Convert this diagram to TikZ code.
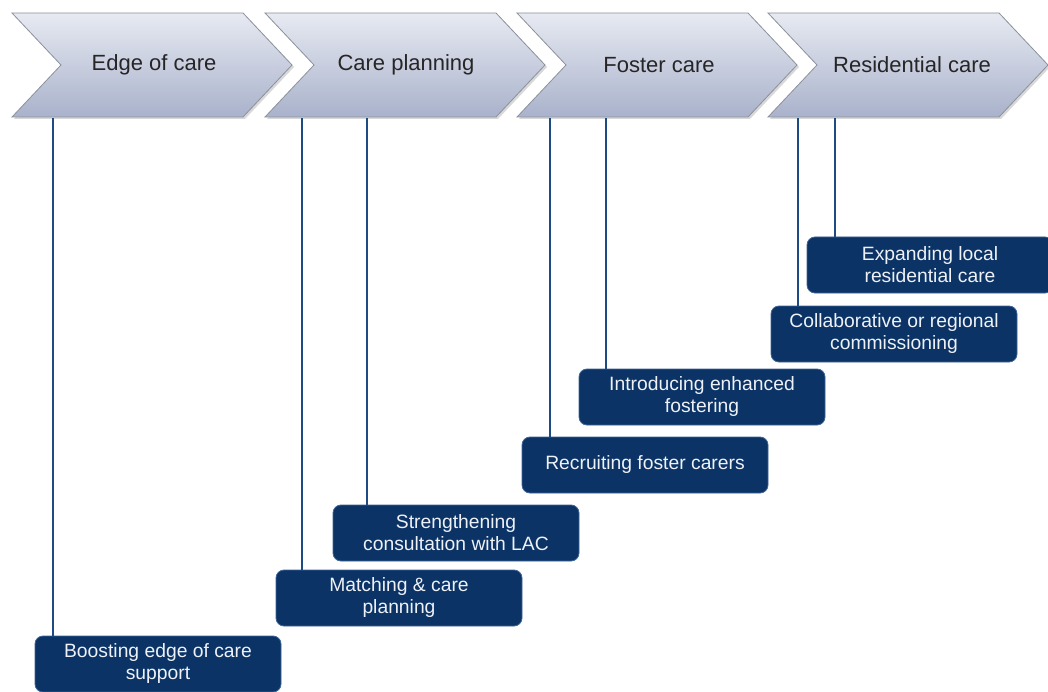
\documentclass[tikz,border=0pt]{standalone}
\usepackage{fontspec}
\setmainfont{Liberation Sans}
\definecolor{navy}{HTML}{0B3366}
\definecolor{navyedge}{HTML}{3F6496}
\definecolor{linecol}{HTML}{1F4B85}
\definecolor{chtop}{HTML}{E7EAF2}
\definecolor{chbot}{HTML}{A9B2CB}
\definecolor{chedge}{HTML}{8C919B}
\definecolor{chtext}{HTML}{262626}
\definecolor{boxtext}{HTML}{EEF1F6}
\tikzset{
  chevtext/.style={font=\fontsize{22}{25}\selectfont, text=chtext, inner sep=0pt},
  taskbox/.style={rounded corners=8pt, fill=navy, draw=navyedge, line width=0.8pt,
    minimum width=246pt, minimum height=56pt, text=boxtext, align=center,
    font=\fontsize{19.3}{22}\selectfont, inner sep=2pt},
  link/.style={draw=linecol, line width=2.3pt}
}
\newcommand{\chev}[1]{%
  \fill[gray!60, opacity=0.5] (#1+2,15) -- (#1+233,15) -- (#1+282,67) -- (#1+233,119) -- (#1+2,119) -- (#1+51,67) -- cycle;
  \shade[top color=chtop, bottom color=chbot, draw=chedge, line width=0.8pt]
    (#1,13) -- (#1+231,13) -- (#1+280,65) -- (#1+231,117) -- (#1,117) -- (#1+49,65) -- cycle;
}
\begin{document}
\begin{tikzpicture}[x=1pt,y=-1pt]
\useasboundingbox (0,0) rectangle (1048,692);
\clip (0,0) rectangle (1048,692);
\fill[white] (0,0) rectangle (1048,692);
% chevrons
\chev{12}
\chev{265}
\chev{517}
\chev{768}
\node[chevtext] (c1) at (154,65) {Edge of care};
\node[chevtext] (c2) at (406,65) {Care planning};
\node[chevtext] (c3) at (659,65) {Foster care};
\node[chevtext] (c4) at (912,65) {Residential care};
% anchor points on chevron bottoms
\coordinate (t1) at (53,118);
\coordinate (t2) at (302,118);
\coordinate (t3) at (367,118);
\coordinate (t4) at (550,118);
\coordinate (t5) at (606,118);
\coordinate (t6) at (798,118);
\coordinate (t7) at (835,118);
% boxes
\node[taskbox] (b1) at (158,664) {Boosting edge of care\\support};
\node[taskbox] (b2) at (399,598) {Matching \& care\\planning};
\node[taskbox] (b3) at (456,533) {Strengthening\\consultation with LAC};
\node[taskbox] (b4) at (645,465) {Recruiting foster carers};
\node[taskbox] (b5) at (702,397) {Introducing enhanced\\fostering};
\node[taskbox] (b6) at (894,334) {Collaborative or regional\\commissioning};
\node[taskbox] (b7) at (930,265) {Expanding local\\residential care};
% connectors
\draw[link] (t1) -- (t1 |- b1.north);
\draw[link] (t2) -- (t2 |- b2.north);
\draw[link] (t3) -- (t3 |- b3.north);
\draw[link] (t4) -- (t4 |- b4.north);
\draw[link] (t5) -- (t5 |- b5.north);
\draw[link] (t6) -- (t6 |- b6.north);
\draw[link] (t7) -- (t7 |- b7.north);
\end{tikzpicture}
\end{document}
